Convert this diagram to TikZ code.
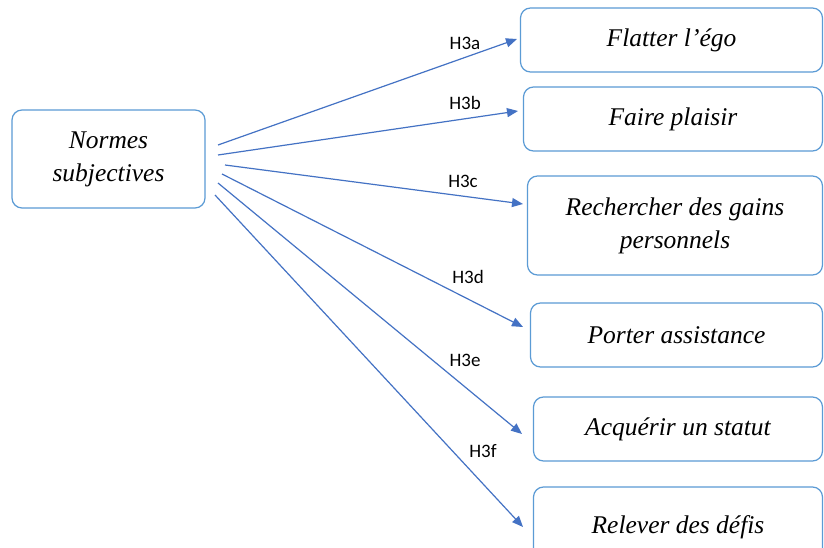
\documentclass[tikz,border=0pt]{standalone}
\usepackage{fontspec}
\setmainfont{Liberation Serif}
\newfontfamily\lblfont{Carlito}
\usetikzlibrary{arrows.meta}
\definecolor{boxblue}{RGB}{91,155,213}
\definecolor{arrblue}{RGB}{68,114,196}
\begin{document}
\begin{tikzpicture}[x=1pt,y=-1pt,
  box/.style={draw=boxblue, line width=1.2pt, rounded corners=10pt, fill=white,
    font=\fontsize{25.5}{33}\selectfont\itshape, align=center, inner sep=0pt},
  conn/.style={draw=arrblue, line width=1.2pt, -{Triangle[length=11pt,width=9pt]}},
  lbl/.style={font=\lblfont\fontsize{19}{22}\selectfont, inner sep=0pt}]
\useasboundingbox (0,0) rectangle (824,548);
\clip (0,0) rectangle (824,548);
\fill[white] (0,0) rectangle (824,548);
% boxes (centre, width, height)
\node[box, minimum width=193pt, minimum height=98pt] (ns) at (108.5,159) {Normes\\subjectives};
\node[box, minimum width=302pt, minimum height=64pt] (b1) at (671.5,40) {Flatter l’égo};
\node[box, minimum width=299pt, minimum height=64pt] (b2) at (673,119) {Faire plaisir};
\node[box, minimum width=295pt, minimum height=99pt] (b3) at (675,225.5) {Rechercher des gains\\personnels};
\node[box, minimum width=292pt, minimum height=64pt] (b4) at (676.5,335) {Porter assistance};
\node[box, minimum width=289pt, minimum height=64pt] (b5) at (678,429) {Acquérir un statut};
\node[box, minimum width=289pt, minimum height=80pt] (b6) at (678,527) {Relever des défis};
% start points
\coordinate (s1) at (218,145);
\coordinate (s2) at (218,155);
\coordinate (s3) at (225,165);
\coordinate (s4) at (222,174);
\coordinate (s5) at (218,183);
\coordinate (s6) at (215,195);
% end points
\coordinate (e1) at (517,39);
\coordinate (e2) at (518,111);
\coordinate (e3) at (523,204);
\coordinate (e4) at (523,327);
\coordinate (e5) at (522,434);
\coordinate (e6) at (523,527);
\draw[conn] (s1) -- (e1);
\draw[conn] (s2) -- (e2);
\draw[conn] (s3) -- (e3);
\draw[conn] (s4) -- (e4);
\draw[conn] (s5) -- (e5);
\draw[conn] (s6) -- (e6);
% labels
\node[lbl] (l1) at (465,43) {H3a};
\node[lbl] (l2) at (465,103) {H3b};
\node[lbl] (l3) at (463,181) {H3c};
\node[lbl] (l4) at (468,277) {H3d};
\node[lbl] (l5) at (465,360) {H3e};
\node[lbl] (l6) at (483,451) {H3f};
\end{tikzpicture}
\end{document}
